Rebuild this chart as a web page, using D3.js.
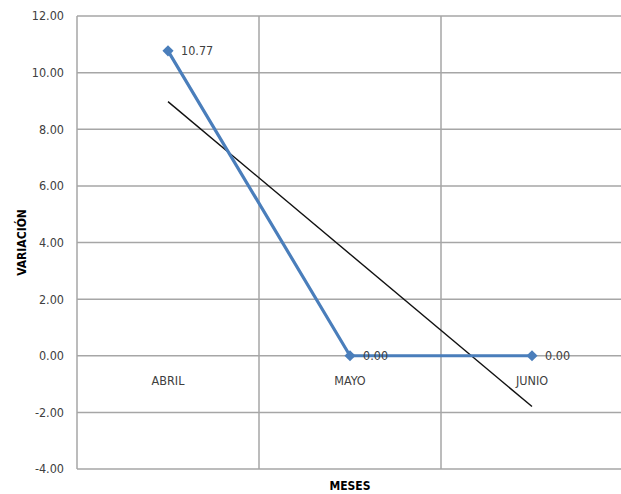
<!DOCTYPE html>
<html>
<head>
<meta charset="utf-8">
<script src="https://cdn.jsdelivr.net/npm/d3@7"></script>
<style>
html,body{margin:0;padding:0;background:#fff;overflow:hidden;}
svg{display:block;font-family:"Liberation Sans Narrow","DejaVu Sans Condensed","Liberation Sans",sans-serif;}
</style>
</head>
<body>
<svg id="chart" width="621" height="494"></svg>
<script>
const categories = ["ABRIL", "MAYO", "JUNIO"];
const values = [10.77, 0.00, 0.00];
const valueLabels = ["10.77", "0.00", "0.00"];
const yTicks = [-4, -2, 0, 2, 4, 6, 8, 10, 12];
const yTitle = "VARIACIÓN";
const xTitle = "MESES";

(function () {
const svg = d3.select("#chart");
const pL = 77, pR = 623, pT = 16, pB = 469;

const x = d3.scaleBand().domain(categories).range([pL, pR]);
const y = d3.scaleLinear().domain([-4, 12]).range([pB, pT]);
const cx = c => x(c) + x.bandwidth() / 2;
const fmt = d3.formatLocale({decimal: ".", thousands: ",", grouping: [3], currency: ["", ""], minus: "-"}).format(".2f");

// horizontal gridlines
svg.append("g").selectAll("line").data(yTicks).join("line")
  .attr("x1", pL).attr("x2", pR)
  .attr("y1", d => y(d)).attr("y2", d => y(d))
  .attr("stroke", "#a6a6a6").attr("stroke-width", 1.5);

// vertical gridlines (category boundaries)
const bounds = categories.map(c => x(c)).concat([x(categories[categories.length-1]) + x.bandwidth()]);
svg.append("g").selectAll("line").data(bounds).join("line")
  .attr("x1", d => d).attr("x2", d => d)
  .attr("y1", pT).attr("y2", pB)
  .attr("stroke", "#a6a6a6").attr("stroke-width", 1.5);

// y tick labels
svg.append("g").selectAll("text").data(yTicks).join("text")
  .attr("x", 64).attr("y", d => y(d))
  .attr("dy", "0.35em")
  .attr("text-anchor", "end")
  .attr("font-size", 12.5)
  .attr("fill", "#404040")
  .text(d => fmt(d));

// category labels at zero line
svg.append("g").selectAll("text").data(categories).join("text")
  .attr("x", d => cx(d)).attr("y", y(0) + 25)
  .attr("dy", "0.35em")
  .attr("text-anchor", "middle")
  .attr("font-size", 12.5)
  .attr("fill", "#404040")
  .text(d => d);

// linear trend line
const n = values.length;
const xs = d3.range(1, n + 1);
const mx = d3.mean(xs), my = d3.mean(values);
const slope = d3.sum(xs.map((xi, i) => (xi - mx) * (values[i] - my))) / d3.sum(xs.map(xi => (xi - mx) ** 2));
const icpt = my - slope * mx;
svg.append("line")
  .attr("x1", cx(categories[0])).attr("y1", y(icpt + slope * 1))
  .attr("x2", cx(categories[n-1])).attr("y2", y(icpt + slope * n))
  .attr("stroke", "#111").attr("stroke-width", 1.4);

// data line
const line = d3.line().x((d, i) => cx(categories[i])).y(d => y(d));
svg.append("path").datum(values)
  .attr("d", line)
  .attr("fill", "none")
  .attr("stroke", "#4a7ebb")
  .attr("stroke-width", 3.2);

// markers
svg.append("g").selectAll("path").data(values).join("path")
  .attr("transform", (d, i) => `translate(${cx(categories[i])},${y(d)}) rotate(45)`)
  .attr("d", d3.symbol().type(d3.symbolSquare).size(62))
  .attr("fill", "#4a7ebb");

// data labels
svg.append("g").selectAll("text").data(values).join("text")
  .attr("x", (d, i) => cx(categories[i]) + 13)
  .attr("y", d => y(d))
  .attr("dy", "0.35em")
  .attr("font-size", 12.5)
  .attr("fill", "#404040")
  .text((d, i) => valueLabels[i]);

// axis titles
svg.append("text")
  .attr("transform", `translate(22,${(pT + pB) / 2}) rotate(-90)`)
  .attr("text-anchor", "middle")
  .attr("dy", "0.35em")
  .attr("font-size", 12)
  .attr("font-weight", "bold")
  .attr("fill", "#000")
  .text(yTitle);

svg.append("text")
  .attr("x", cx(categories[1])).attr("y", 486)
  .attr("text-anchor", "middle")
  .attr("dy", "0.35em")
  .attr("font-size", 12)
  .attr("font-weight", "bold")
  .attr("fill", "#000")
  .text(xTitle);
})();
</script>
</body>
</html>
